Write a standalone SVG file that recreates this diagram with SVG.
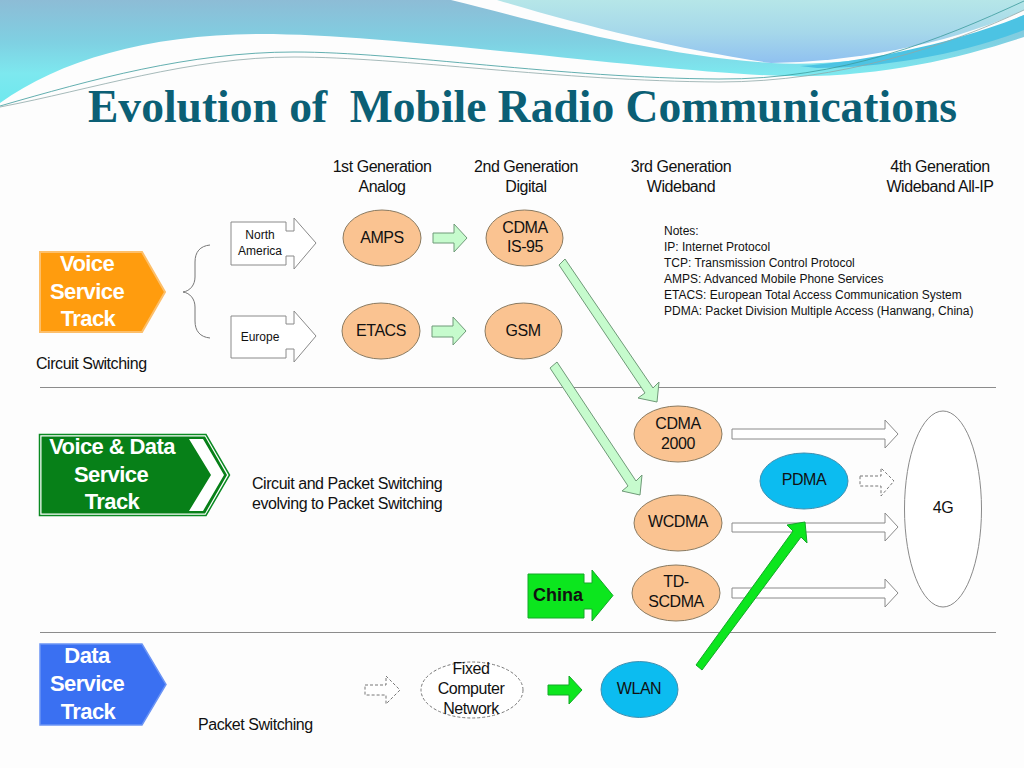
<svg xmlns="http://www.w3.org/2000/svg" width="1024" height="768" viewBox="0 0 1024 768">
<style>
text{font-family:"Liberation Sans",Arial,sans-serif;fill:#111;text-anchor:middle;font-size:16px;letter-spacing:-0.45px}
.l{text-anchor:start}
.n{font-size:12px;text-anchor:start;letter-spacing:0}
.s{font-size:12px;letter-spacing:0}
.w{font-size:22px;font-weight:bold;fill:#fff;letter-spacing:-0.6px}
.o{fill:#fac391;stroke:#8a7a60;stroke-width:1}
.b{fill:#0cbcf0;stroke:#3f8fb0;stroke-width:1}
.a{fill:#fff;stroke:#8a8a8a;stroke-width:1}
.d{fill:#fff;stroke:#777;stroke-width:1;stroke-dasharray:3 2}
.p{fill:#c6fbcd;stroke:#6f9a78;stroke-width:1}
.g{fill:#0ce61e;stroke:#14a828;stroke-width:1}
.r{stroke:#8c8c8c;stroke-width:1;fill:none}
</style>
<defs>
<linearGradient id="g1" gradientUnits="userSpaceOnUse" x1="0" y1="0" x2="0" y2="105"><stop offset="0" stop-color="#8dbcd6"/><stop offset="0.4" stop-color="#7fd0e2"/><stop offset="0.7" stop-color="#7de8ef"/><stop offset="1" stop-color="#6ee8ee"/></linearGradient>
<linearGradient id="g2" gradientUnits="userSpaceOnUse" x1="0" y1="0" x2="0" y2="64"><stop offset="0" stop-color="#b6e6e8"/><stop offset="0.5" stop-color="#a6d8ea"/><stop offset="1" stop-color="#8fc0f0"/></linearGradient>
</defs>
<rect width="1024" height="768" fill="#fdfdfd"/>
<g id="background">
<path d="M0 0H451C540 22 650 55 771 63C860 68 960 45 1024 15V37C960 58 880 78 784 76C650 72 400 34 261 34C150 34 60 60 0 103Z" fill="url(#g1)"/>
<path d="M497 0H1024V10C950 45 850 62 771 63C680 50 580 25 497 0Z" fill="url(#g2)"/>
<path d="M800 66C860 62 950 45 1024 15V30C960 55 880 68 817 68Z" fill="#4cc3e3"/>
<path d="M0 106C90 80 190 52 294 52C400 52 560 78 719 79C840 80 940 40 1024 1" fill="none" stroke="#3b9a9c" stroke-width="0.8"/>
<path d="M0 107C90 90 190 57 294 57C400 57 560 81 719 82C840 82 950 45 1024 10" fill="none" stroke="#8fa8a8" stroke-width="0.8"/>
</g>
<text x="522.500" y="122" textLength="869" lengthAdjust="spacingAndGlyphs" style="font-family:'Liberation Serif',serif;font-size:46px;font-weight:bold;fill:#0b5f75;white-space:pre;letter-spacing:0">Evolution of  Mobile Radio Communications</text>
<g id="headers">
<text x="382" y="172">1st Generation</text><text x="382" y="192">Analog</text>
<text x="526" y="172">2nd Generation</text><text x="526" y="192">Digital</text>
<text x="681" y="172">3rd Generation</text><text x="681" y="192">Wideband</text>
<text x="940" y="172">4th Generation</text><text x="940" y="192">Wideband All-IP</text>
</g>
<g id="notes">
<text class="n" x="664" y="235">Notes:</text>
<text class="n" x="664" y="251">IP: Internet Protocol</text>
<text class="n" x="664" y="267">TCP: Transmission Control Protocol</text>
<text class="n" x="664" y="283">AMPS: Advanced Mobile Phone Services</text>
<text class="n" x="664" y="299">ETACS: European Total Access Communication System</text>
<text class="n" x="664" y="315">PDMA: Packet Division Multiple Access (Hanwang, China)</text>
</g>
<g id="dividers">
<line class="r" x1="40" y1="387.500" x2="996" y2="387.500"/>
<line class="r" x1="40" y1="632.500" x2="996" y2="632.500"/>
</g>
<g id="connectors">
<path class="r" d="M210 245C200 246 195 252 195 262V277C195 285 190 291 183 292C190 293 195 299 195 307V321C195 331 200 337 210 338" style="stroke:#777"/>
<polygon class="p" points="433,233 454,233 454,224 467,238 454,252 454,243 433,243"/>
<polygon class="p" points="432,326 453,326 453,317 466,331 453,345 453,337 432,337"/>
<polygon class="p" points="559,265 565,259 653,388 659,382 657,402 638,398 645,393"/>
<polygon class="p" points="550,368 557,362 636,481 642,475 640,495 622,491 628,486"/>
<polygon class="a" points="732,429 885,429 885,420 898,434 885,448 885,439 732,439"/>
<polygon class="a" points="732,523 885,523 885,513 898,527 885,541 885,532 732,532"/>
<polygon class="a" points="732,588 885,588 885,579 898,593 885,607 885,598 732,598"/>
<polygon class="d" points="860,476 881,476 881,468 894,481 881,496 881,486 860,486"/>
<polygon class="d" points="365,685 386,685 386,676 400,690 386,704 386,695 365,695"/>
<polygon class="g" points="548,685 569,685 569,676 582,690 569,704 569,695 548,695"/>
<polygon class="g" points="696,665 793,531 787,525 805,522 807,543 801,537 702,670"/>
</g>
<g id="voice-track">
<polygon points="40,252 142,252 165,292 142,332 40,332" fill="#ff9c0e" stroke="#fdbf6a" stroke-width="2"/>
<text class="w" x="87" y="271">Voice</text><text class="w" x="87" y="299">Service</text><text class="w" x="88" y="326">Track</text>
</g>
<g id="voice-data-track">
<polygon points="39.500,434.500 206,434.500 229.500,475 206,515.500 39.500,515.500" fill="#fff" stroke="#0a8a22" stroke-width="1.500"/>
<polygon points="41.500,436.500 205,436.500 227,475 205,513.500 41.500,513.500" fill="#078018"/>
<polygon points="189,439 203,439 224,475 203,511 189,511 211,475" fill="#fff"/>
<text class="w" x="112" y="454">Voice &amp; Data</text><text class="w" x="111" y="482">Service</text><text class="w" x="112" y="509">Track</text>
</g>
<g id="data-track">
<polygon points="40,644 142,644 166,684.500 142,725 40,725" fill="#3a70f2" stroke="#6b94f5" stroke-width="1.500"/>
<text class="w" x="87" y="663">Data</text><text class="w" x="87" y="691">Service</text><text class="w" x="88" y="719">Track</text>
</g>
<g id="north-america">
<polygon class="a" points="231,222 286,222 286,231 294,231 294,218 316,243 294,269 294,256 286,256 286,265 231,265"/>
<text class="s" x="260" y="239">North</text><text class="s" x="260" y="255">America</text>
</g>
<g id="europe">
<polygon class="a" points="231,316 286,316 286,324 294,324 294,311 316,336 294,362 294,349 286,349 286,358 231,358"/>
<text class="s" x="260" y="341">Europe</text>
</g>
<g id="amps"><ellipse class="o" cx="382" cy="238" rx="39" ry="28"/><text x="382" y="243">AMPS</text></g>
<g id="cdma-is95"><ellipse class="o" cx="524.500" cy="238" rx="38.500" ry="28"/><text x="525" y="233">CDMA</text><text x="525" y="252">IS-95</text></g>
<g id="etacs"><ellipse class="o" cx="381" cy="331" rx="39" ry="28"/><text x="381" y="336">ETACS</text></g>
<g id="gsm"><ellipse class="o" cx="523.500" cy="331" rx="38.500" ry="28"/><text x="523" y="336">GSM</text></g>
<g id="cdma2000"><ellipse class="o" cx="678" cy="434" rx="44" ry="28"/><text x="678" y="429">CDMA</text><text x="678" y="449">2000</text></g>
<g id="wcdma"><ellipse class="o" cx="678" cy="523" rx="44" ry="28"/><text x="678" y="527">WCDMA</text></g>
<g id="td-scdma"><ellipse class="o" cx="676" cy="593" rx="44" ry="28"/><text x="676" y="587">TD-</text><text x="676" y="607">SCDMA</text></g>
<g id="pdma"><ellipse class="b" cx="804" cy="481" rx="44" ry="28"/><text x="804" y="485">PDMA</text></g>
<g id="wlan"><ellipse class="b" cx="639.500" cy="689.500" rx="38.500" ry="28"/><text x="639" y="694">WLAN</text></g>
<g id="fourg"><ellipse class="a" cx="943" cy="509" rx="38.500" ry="98"/><text x="943" y="513">4G</text></g>
<g id="fixed-network"><ellipse class="d" cx="472" cy="690" rx="51" ry="28"/><text x="471" y="674">Fixed</text><text x="471" y="694">Computer</text><text x="471" y="714">Network</text></g>
<g id="china"><polygon class="g" points="528,574 584,574 584,583 592,583 592,570 613,595.500 592,621 592,609 584,609 584,618 528,618"/><text x="558" y="601" style="font-size:18px;font-weight:bold;letter-spacing:0">China</text></g>
<g id="labels">
<text class="l" x="36" y="369">Circuit Switching</text>
<text class="l" x="252" y="489">Circuit and Packet Switching</text>
<text class="l" x="252" y="509">evolving to Packet Switching</text>
<text class="l" x="198" y="730">Packet Switching</text>
</g>
</svg>
